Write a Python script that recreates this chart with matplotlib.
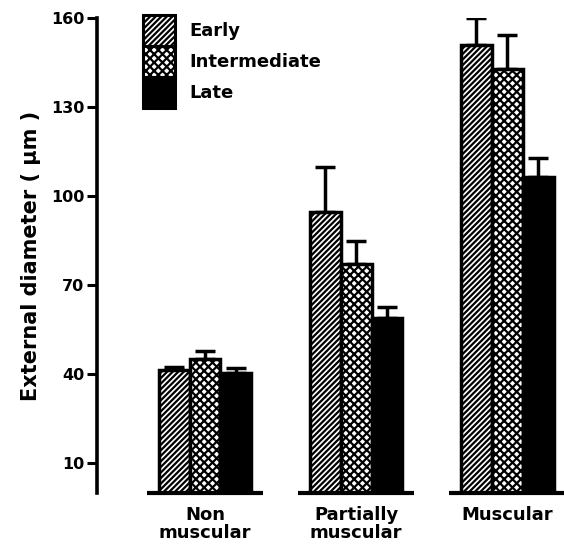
import matplotlib
matplotlib.use("Agg")
import matplotlib.pyplot as plt
from matplotlib.patches import Rectangle
import numpy as np

plt.rcParams['hatch.linewidth'] = 1.6

groups = ["Non\nmuscular", "Partially\nmuscular", "Muscular"]
series = ["Early", "Intermediate", "Late"]
early = [41.6, 94.8, 150.9]
early_err = [1.0, 15.0, 9.0]
inter = [45.3, 77.3, 142.9]
inter_err = [2.5, 7.7, 11.4]
late = [40.3, 58.8, 106.5]
late_err = [1.7, 4.0, 6.4]
yticks = [10, 40, 70, 100, 130, 160]

W, H = 564, 546
fig = plt.figure(figsize=(W/100, H/100), dpi=100)
ax = fig.add_axes([97/W, (H-493)/H, (W-97)/W, 475/H])

vals = [early, inter, late]
errs = [early_err, inter_err, late_err]
hatches = ['//////', 'xxxx', None]
faces = ['white', 'white', 'black']
x = np.arange(len(groups))
bw = 0.205
for i in range(3):
    xs = x + (i - 1) * bw
    ax.bar(xs, vals[i], width=bw, facecolor=faces[i], edgecolor='black',
           linewidth=2.5, hatch=hatches[i], zorder=2)
    ax.errorbar(xs, vals[i], yerr=[np.zeros(3), errs[i]], fmt='none',
                ecolor='black', elinewidth=2.5, capsize=7, capthick=2.5, zorder=1)

for xc in x:
    ax.plot([xc - 0.385, xc + 0.385], [0, 0], color='black', lw=3,
            solid_capstyle='butt', clip_on=False, zorder=3)

ax.set_xlim(-0.715, 2.377)
ax.set_ylim(0, 160)
for s in ['top', 'right', 'bottom']:
    ax.spines[s].set_visible(False)
ax.spines['left'].set_linewidth(2.6)
ax.spines['left'].set_bounds(0, 160)
ax.set_yticks(yticks)
ax.set_yticklabels([str(t) for t in yticks], fontsize=11.5, fontweight='bold')
ax.tick_params(axis='y', direction='out', length=7, width=2.2, pad=2)
ax.set_xticks(x)
ax.set_xticklabels(groups, fontsize=13, fontweight='bold', linespacing=1.0)
ax.tick_params(axis='x', length=0, pad=9)
ax.set_ylabel("External diameter ( μm )", fontsize=15, fontweight='bold', labelpad=7)

# legend
bh = 31
for i, name in enumerate(series):
    y0 = 15 + i * bh
    r = Rectangle((143/W, 1 - (y0 + bh)/H), 32/W, bh/H, transform=fig.transFigure,
                  facecolor=faces[i], edgecolor='black', linewidth=2.2, hatch=hatches[i])
    fig.add_artist(r)
    fig.text(189/W, 1 - (y0 + 16)/H, name, fontsize=13, fontweight='bold', va='center', ha='left')

fig.savefig("out.png", dpi=100)
